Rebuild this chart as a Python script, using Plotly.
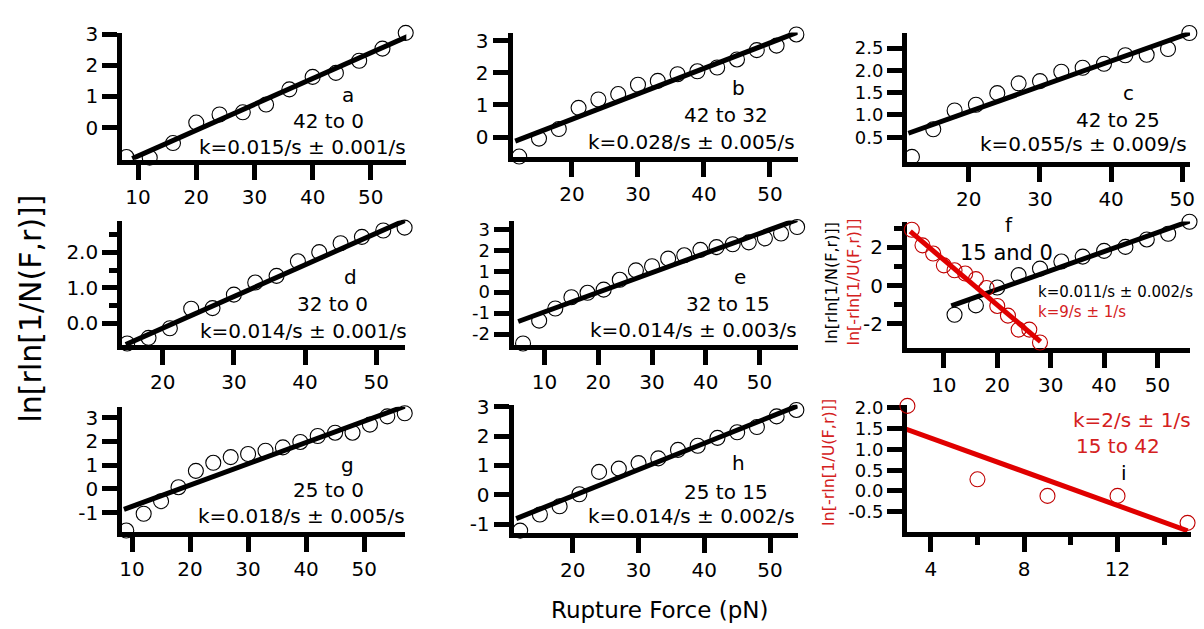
import plotly.graph_objects as go

W, H = 1204, 629

# ---------------- data ----------------
a_x = [8, 12, 16, 20, 24, 28, 32, 36, 40, 44, 48, 52, 56]
a_y = [-0.95, -0.97, -0.50, 0.16, 0.42, 0.49, 0.74, 1.23, 1.63, 1.76, 2.15, 2.54, 3.05]
a_fit_x = [9.0, 56.4]
a_fit_y = [-1.0, 2.94]

b_x = [12, 15, 18, 21, 24, 27, 30, 33, 36, 39, 42, 45, 48, 51, 54]
b_y = [-0.61, -0.05, 0.25, 0.91, 1.17, 1.34, 1.63, 1.75, 1.96, 2.05, 2.17, 2.42, 2.71, 2.85, 3.20]
b_fit_x = [11.4, 54.2]
b_fit_y = [-0.13, 3.27]

c_x = [12, 15, 18, 21, 24, 27, 30, 33, 36, 39, 42, 45, 48, 51]
c_y = [0.06, 0.68, 1.10, 1.23, 1.49, 1.71, 1.76, 1.97, 2.06, 2.15, 2.34, 2.35, 2.48, 2.84]
c_fit_x = [11.5, 51.1]
c_fit_y = [0.59, 2.84]

d_x = [15, 18, 21, 24, 27, 30, 33, 36, 39, 42, 45, 48, 51, 54]
d_y = [-0.57, -0.41, -0.14, 0.41, 0.43, 0.81, 1.15, 1.34, 1.75, 2.01, 2.26, 2.44, 2.62, 2.70]
d_fit_x = [14.8, 54.35]
d_fit_y = [-0.6, 2.93]

e_x = [6, 9, 12, 15, 18, 21, 24, 27, 30, 33, 36, 39, 42, 45, 48, 51, 54, 57]
e_y = [-2.45, -1.36, -0.78, -0.24, -0.03, 0.12, 0.59, 1.04, 1.24, 1.60, 1.76, 2.02,
       2.15, 2.29, 2.38, 2.57, 2.80, 3.11]
e_fit_x = [5.1, 57.1]
e_fit_y = [-1.40, 3.47]

f_x = [12, 16, 20, 24, 28, 32, 36, 40, 44, 48, 52, 56]
f_y = [-1.53, -1.04, -0.10, 0.55, 0.89, 1.26, 1.52, 1.82, 2.03, 2.42, 2.72, 3.35]
f_fit_x = [11.4, 56.2]
f_fit_y = [-1.07, 3.40]
f_red_x = [4, 6, 8, 10, 12, 14, 16, 18, 20, 22, 24, 26, 28]
f_red_y = [2.93, 2.11, 1.68, 1.06, 0.80, 0.63, 0.34, -0.13, -1.07, -1.58, -2.31, -2.31, -2.99]
f_red_fit_x = [3.7, 28.1]
f_red_fit_y = [2.84, -2.94]

g_x = [9, 12, 15, 18, 21, 24, 27, 30, 33, 36, 39, 42, 45, 48, 51, 54, 57]
g_y = [-1.76, -1.05, -0.52, 0.07, 0.76, 1.10, 1.34, 1.47, 1.61, 1.75, 1.98, 2.23,
       2.37, 2.37, 2.71, 3.06, 3.19]
g_fit_x = [8.6, 57.3]
g_fit_y = [-0.87, 3.51]

h_x = [12, 15, 18, 21, 24, 27, 30, 33, 36, 39, 42, 45, 48, 51, 54]
h_y = [-1.22, -0.67, -0.39, 0.02, 0.78, 0.89, 1.08, 1.24, 1.53, 1.67, 1.94, 2.13, 2.31, 2.67, 2.89]
h_fit_x = [11.4, 54.2]
h_fit_y = [-0.81, 3.03]

i_x = [3, 6, 9, 12, 15]
i_y = [2.05, 0.28, -0.12, -0.12, -0.77]
i_fit_x = [2.9, 15.0]
i_fit_y = [1.5, -0.96]

labels = ["a", "b", "c", "d", "e", "f", "g", "h", "i"]
ranges_text = ["42 to 0", "42 to 32", "42 to 25", "32 to 0", "32 to 15", "15 and 0",
               "25 to 0", "25 to 15", "15 to 42"]
k_text = ["k=0.015/s ± 0.001/s", "k=0.028/s ± 0.005/s", "k=0.055/s ± 0.009/s",
          "k=0.014/s ± 0.001/s", "k=0.014/s ± 0.003/s", "k=0.011/s ± 0.002/s",
          "k=0.018/s ± 0.005/s", "k=0.014/s ± 0.002/s", "k=2/s ± 1/s"]
k_red_f = "k=9/s ± 1/s"

# tick values / labels
xtick_vals = {1: [10, 20, 30, 40, 50], 2: [20, 30, 40, 50], 3: [20, 30, 40, 50],
              4: [20, 30, 40, 50], 5: [10, 20, 30, 40, 50], 6: [10, 20, 30, 40, 50],
              7: [10, 20, 30, 40, 50], 8: [20, 30, 40, 50], 9: [4, 8, 12]}
ytick_vals = {1: [0, 1, 2, 3], 2: [0, 1, 2, 3], 3: [0.5, 1.0, 1.5, 2.0, 2.5],
              4: [0, 1, 2], 5: [-2, -1, 0, 1, 2, 3], 6: [-2, 0, 2],
              7: [-1, 0, 1, 2, 3], 8: [-1, 0, 1, 2, 3],
              9: [-0.5, 0.0, 0.5, 1.0, 1.5, 2.0]}
ytick_text = {1: ["0", "1", "2", "3"], 2: ["0", "1", "2", "3"],
              3: ["0.5", "1.0", "1.5", "2.0", "2.5"], 4: ["0.0", "1.0", "2.0"],
              5: ["-2", "-1", "0", "1", "2", "3"], 6: ["-2", "0", "2"],
              7: ["-1", "0", "1", "2", "3"], 8: ["-1", "0", "1", "2", "3"],
              9: ["-0.5", "0.0", "0.5", "1.0", "1.5", "2.0"]}
yminor_vals = {4: [0.5, 1.5, 2.5], 6: [-1, 1, 3]}
xminor_vals = {9: [6, 10, 14]}

# ---------------- style / layout ----------------
BLACK = "black"
RED_LINE = "#e00000"
RED_MARK = "#c00000"
RED_TEXT = "#d42020"
TICKFONT = dict(family="DejaVu Sans", size=20, color="black")
TIGHT_TICKFONT = dict(family="DejaVu Sans", size=18, color="black")
ANNFONT = "DejaVu Sans"
tight_y = {3, 5, 9}

# pixel boxes: left, right, top, bottom
boxes = {
    1: (120, 406, 23, 153),
    2: (513, 800, 23, 150),
    3: (910, 1195, 23, 155),
    4: (120, 405, 215, 342),
    5: (514, 800, 215, 342),
    6: (910, 1195, 216, 345),
    7: (120, 405, 405, 533),
    8: (514, 800, 403, 534),
    9: (910, 1196, 403, 533),
}
xranges = {1: [7.27, 56.1], 2: [11.0, 54.2], 3: [11.3, 51.1], 4: [14.3, 54.1],
           5: [4.24, 57.1], 6: [3.09, 56.1], 7: [8.3, 57.1], 8: [11.0, 54.2],
           9: [2.98, 15.15]}
yranges = {1: [-1.04, 3.06], 2: [-0.62, 3.26], 3: [-0.05, 2.85], 4: [-0.61, 2.90],
           5: [-2.52, 3.42], 6: [-3.27, 3.36], 7: [-1.82, 3.47], 8: [-1.3, 3.07],
           9: [-0.99, 2.08]}


def px2fx(p):
    return p / W


def px2fy(p):
    return 1 - p / H


fig = go.Figure()


def add_panel(k, xs, ys, fx, fy, mcolor=BLACK, lcolor=BLACK):
    xa = "x" if k == 1 else f"x{k}"
    ya = "y" if k == 1 else f"y{k}"
    fig.add_trace(go.Scatter(x=xs, y=ys, mode="markers", xaxis=xa, yaxis=ya,
                             cliponaxis=False, showlegend=False,
                             marker=dict(symbol="circle-open", size=15, color=mcolor,
                                         line=dict(width=1.1, color=mcolor))))
    fig.add_trace(go.Scatter(x=fx, y=fy, mode="lines", xaxis=xa, yaxis=ya,
                             cliponaxis=False, showlegend=False,
                             line=dict(color=lcolor, width=5)))


add_panel(1, a_x, a_y, a_fit_x, a_fit_y)
add_panel(2, b_x, b_y, b_fit_x, b_fit_y)
add_panel(3, c_x, c_y, c_fit_x, c_fit_y)
add_panel(4, d_x, d_y, d_fit_x, d_fit_y)
add_panel(5, e_x, e_y, e_fit_x, e_fit_y)
add_panel(6, f_x, f_y, f_fit_x, f_fit_y)
add_panel(6, f_red_x, f_red_y, f_red_fit_x, f_red_fit_y, RED_MARK, RED_LINE)
add_panel(7, g_x, g_y, g_fit_x, g_fit_y)
add_panel(8, h_x, h_y, h_fit_x, h_fit_y)
add_panel(9, i_x, i_y, i_fit_x, i_fit_y, RED_MARK, RED_LINE)

layout = dict(width=W, height=H, margin=dict(l=0, r=0, t=0, b=0),
              paper_bgcolor="white", plot_bgcolor="white", showlegend=False)

common = dict(showline=True, linecolor="black", linewidth=5, ticks="outside",
              ticklen=15, tickwidth=5, tickcolor="black", showgrid=False,
              zeroline=False, tickfont=TICKFONT, mirror=False, layer="below traces")

for k in range(1, 10):
    l, r, t, b = boxes[k]
    xname = "xaxis" if k == 1 else f"xaxis{k}"
    yname = "yaxis" if k == 1 else f"yaxis{k}"
    xa = dict(common, domain=[px2fx(l), px2fx(r)], range=xranges[k],
              anchor="y" if k == 1 else f"y{k}", tickmode="array",
              tickvals=xtick_vals[k], ticktext=[str(v) for v in xtick_vals[k]],
              ticklabelstandoff=0)
    if k in xminor_vals:
        xa["minor"] = dict(tickmode="array", tickvals=xminor_vals[k], ticks="outside",
                           ticklen=8, tickwidth=5, tickcolor="black")
    ya = dict(common, domain=[px2fy(b), px2fy(t)], range=yranges[k],
              anchor="x" if k == 1 else f"x{k}", tickmode="array",
              tickvals=ytick_vals[k], ticktext=ytick_text[k])
    if k in tight_y:
        ya["tickfont"] = TIGHT_TICKFONT
    if k in yminor_vals:
        ya["minor"] = dict(tickmode="array", tickvals=yminor_vals[k], ticks="outside",
                           ticklen=8, tickwidth=5, tickcolor="black")
    layout[xname] = xa
    layout[yname] = ya

fig.update_layout(**layout)


def ann(text, px, py, size=20, color="black", xanchor="center", angle=0, family=ANNFONT):
    fig.add_annotation(text=text, x=px2fx(px), y=px2fy(py), xref="paper", yref="paper",
                       showarrow=False, xanchor=xanchor, yanchor="middle",
                       textangle=angle, font=dict(family=family, size=size, color=color))


# panel annotations (label, range, k)
pos = {
    0: ((347, 87), (328, 113), (302, 140)),
    1: ((740, 80), (728, 107), (693, 135)),
    2: ((1133, 85), (1122, 112), (1088, 137)),
    3: ((350, 273), (332, 300), (303, 328)),
    4: ((742, 273), (730, 300), (695, 327)),
    6: ((347, 465), (328, 490), (300, 517)),
    7: ((740, 463), (728, 492), (693, 517)),
}
for idx, (p1, p2, p3) in pos.items():
    ann(labels[idx], *p1)
    ann(ranges_text[idx], *p2)
    ann(k_text[idx], *p3)

# panel f
ann(labels[5], 1013, 220)
ann(ranges_text[5], 1010, 248, size=21)
ann(k_text[5], 1040, 288, size=15, xanchor="left")
ann(k_red_f, 1040, 308, size=15, color=RED_TEXT, xanchor="left")
ann("ln[rln[1/N(F,r)]]", 834, 278, size=16, angle=-90)
ann("ln[-rln[1/U(F,r)]]", 856, 278, size=16, color=RED_TEXT, angle=-90)

# panel i
ann(k_text[8], 1137, 419, size=20, color=RED_TEXT)
ann(ranges_text[8], 1122, 445, size=20, color=RED_TEXT)
ann(labels[8], 1128, 473)
ann("ln[-rln[1/U(F,r)]]", 831, 462, size=16, color=RED_TEXT, angle=-90)

# global titles
ann("ln[rln[1/N(F,r)]]", 28, 305, size=30, angle=-90)
ann("Rupture Force (pN)", 661, 613, size=23)

fig.write_html("out.html")
